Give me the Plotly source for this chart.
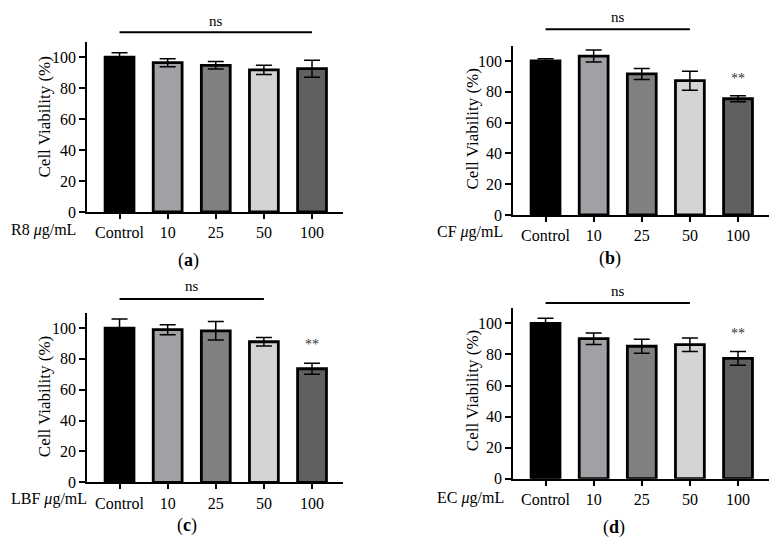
import plotly.graph_objects as go

W, H = 782, 558

categories = ["Control", "10", "25", "50", "100"]
bar_colors = ["#000000", "#a1a1a5", "#808080", "#d4d4d4", "#606060"]

r8_mean = [100, 96.5, 94.8, 91.8, 92.6]
r8_err = [3.0, 2.6, 2.4, 3.0, 5.5]
cf_mean = [100, 103.2, 91.6, 87.2, 75.5]
cf_err = [1.5, 3.9, 3.6, 6.2, 2.0]
lbf_mean = [100, 98.9, 98.2, 91.1, 73.6]
lbf_err = [5.8, 3.3, 6.0, 2.8, 3.6]
ec_mean = [100, 90.2, 85.3, 86.3, 77.5]
ec_err = [3.3, 3.7, 4.5, 4.3, 4.4]

def px(x):
    return x / W

def py(y):
    return 1 - y / H

FONT = "Liberation Serif"

panels = [
    dict(mean=r8_mean, err=r8_err, name="R8", letter="a",
         xd=(87.3, 343.3), yd=(212, 41.8), ns_to=4, ns_y=32.3, ns_ty=20.7, ns_x=2,
         lab_x=9, lab_y=230, title_x=44, title_y=117.5, letter_x=188, letter_y=260, star=None),
    dict(mean=cf_mean, err=cf_err, name="CF", letter="b",
         xd=(513.3, 769.3), yd=(215, 45.6), ns_to=3, ns_y=29.3, ns_ty=17.3, ns_x=1.5,
         lab_x=435, lab_y=232, title_x=472, title_y=128.5, letter_x=610, letter_y=258, star=88.8),
    dict(mean=lbf_mean, err=lbf_err, name="LBF", letter="c",
         xd=(87.3, 343.3), yd=(482.3, 312.6), ns_to=3, ns_y=299, ns_ty=286.3, ns_x=1.5,
         lab_x=9, lab_y=499, title_x=44.7, title_y=396.5, letter_x=187, letter_y=525.7, star=89.6),
    dict(mean=ec_mean, err=ec_err, name="EC", letter="d",
         xd=(513.3, 769.3), yd=(478.7, 307.9), ns_to=3, ns_y=303, ns_ty=290.7, ns_x=1.5,
         lab_x=435, lab_y=498, title_x=472.5, title_y=390.7, letter_x=614, letter_y=527.3, star=93.2),
]

fig = go.Figure()
shapes = []
annotations = []
layout_axes = {}

for i, p in enumerate(panels, start=1):
    xa = "x" if i == 1 else f"x{i}"
    ya = "y" if i == 1 else f"y{i}"
    fig.add_trace(go.Bar(
        x=categories, y=p["mean"], xaxis=xa, yaxis=ya,
        marker=dict(color=bar_colors, line=dict(color="black", width=2.8)),
        width=0.6,
        error_y=dict(type="data", array=p["err"], visible=True,
                     color="black", thickness=1.5, width=8),
        showlegend=False,
    ))
    xkey = "xaxis" if i == 1 else f"xaxis{i}"
    ykey = "yaxis" if i == 1 else f"yaxis{i}"
    layout_axes[xkey] = dict(
        domain=[px(p["xd"][0]), px(p["xd"][1])], anchor=ya,
        range=[-0.67, 4.65], type="category",
        showline=True, linewidth=2, linecolor="black",
        ticks="outside", ticklen=5, tickwidth=1.5, tickcolor="black",
        showgrid=False, zeroline=False, automargin=False,
        tickfont=dict(family=FONT, size=16, color="black"),
    )
    layout_axes[ykey] = dict(
        domain=[py(p["yd"][0]), py(p["yd"][1])], anchor=xa,
        range=[0, 110], tickvals=[0, 20, 40, 60, 80, 100],
        showline=True, linewidth=2, linecolor="black",
        ticks="outside", ticklen=6, tickwidth=1.5, tickcolor="black",
        showgrid=False, zeroline=False, automargin=False,
        tickfont=dict(family=FONT, size=16, color="black"),
    )
    shapes.append(dict(type="line", xref=xa, yref="paper",
                       x0=0, x1=p["ns_to"], y0=py(p["ns_y"]), y1=py(p["ns_y"]),
                       line=dict(color="black", width=2)))
    annotations.append(dict(text="ns", xref=xa, yref="paper", x=p["ns_x"], y=py(p["ns_ty"]),
                            showarrow=False, font=dict(family=FONT, size=15, color="black"),
                            xanchor="center", yanchor="middle"))
    annotations.append(dict(text=p["name"] + " <i>μ</i>g/mL", xref="paper", yref="paper",
                            x=px(p["lab_x"]), y=py(p["lab_y"]), showarrow=False,
                            font=dict(family=FONT, size=16, color="black"),
                            xanchor="left", yanchor="middle"))
    annotations.append(dict(text="Cell Viability (%)", xref="paper", yref="paper",
                            x=px(p["title_x"]), y=py(p["title_y"]), showarrow=False,
                            textangle=-90, font=dict(family=FONT, size=17, color="black"),
                            xanchor="center", yanchor="middle"))
    annotations.append(dict(text="(<b>" + p["letter"] + "</b>)", xref="paper", yref="paper",
                            x=px(p["letter_x"]), y=py(p["letter_y"]), showarrow=False,
                            font=dict(family=FONT, size=18, color="black"),
                            xanchor="center", yanchor="middle"))
    if p["star"] is not None:
        annotations.append(dict(text="**", xref=xa, yref=ya, x=4, y=p["star"],
                                showarrow=False, font=dict(family=FONT, size=14, color="#333333"),
                                xanchor="center", yanchor="middle"))

fig.update_layout(
    width=W, height=H, margin=dict(l=0, r=0, t=0, b=0),
    paper_bgcolor="white", plot_bgcolor="white",
    shapes=shapes, annotations=annotations, bargap=0.4,
    **layout_axes,
)

fig.write_html("out.html", config={"displayModeBar": False},
               post_script="document.body.style.margin='0';document.body.style.overflow='hidden';")
